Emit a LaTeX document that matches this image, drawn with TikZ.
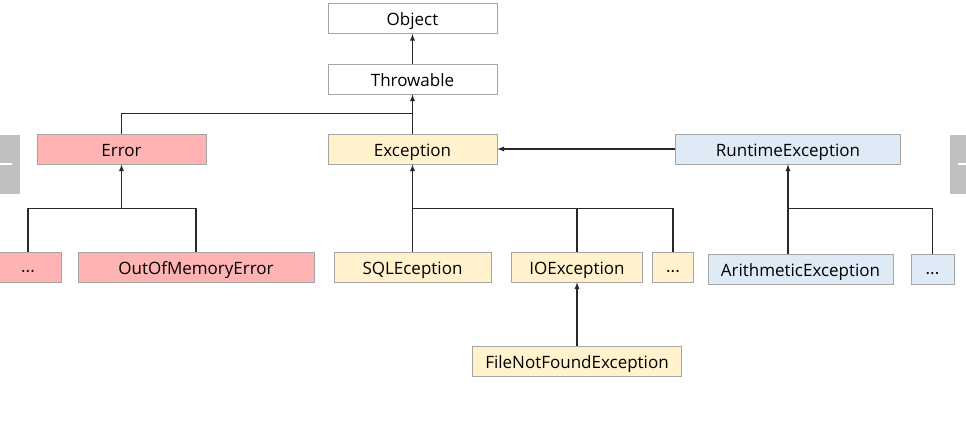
\documentclass[tikz,border=0pt]{standalone}
\usepackage{fontspec}
\usepackage{color}
\usepackage{tikz}
\newfontfamily\classfont{Open Sans}
\newcommand{\moredots}{\raisebox{-3pt}{···}}
\definecolor{boxgray}{RGB}{165,165,165}
\definecolor{linegray}{RGB}{40,40,40}
\definecolor{errorred}{RGB}{255,179,179}
\definecolor{exceptionyellow}{RGB}{255,242,204}
\definecolor{runtimeblue}{RGB}{222,235,247}
\definecolor{sidegray}{RGB}{191,191,191}
\tikzset{root style/.style={
		draw=boxgray,
		line width=0.8pt,
		fill=white,
		text=black,
		rectangle,
		minimum width=169pt,
		minimum height=30pt,
		inner sep=0pt,
		text height=15pt,
		text depth=1pt,
		font=\classfont\fontsize{17}{20}\selectfont,
	},
	error style/.style={
		root style,
		fill=errorred,
	},
	exception style/.style={
		root style,
		fill=exceptionyellow,
	},
	runtime style/.style={
		root style,
		fill=runtimeblue,
	},
	edge style/.style={
		#1,
		draw=linegray,
		line width=1.3pt,
	}
}
\begin{document}
\begin{tikzpicture}[node distance=70pt, >=latex]
	\useasboundingbox (0,0) rectangle (966pt,-445pt);
	
	% side tabs
	\fill[sidegray] (0,-135pt) rectangle (20pt,-194pt);
	\draw[white, line width=1.2pt] (0,-164pt) -- (12pt,-164pt);
	\fill[sidegray] (950pt,-135pt) rectangle (966pt,-194pt);
	\draw[white, line width=1.2pt] (958pt,-164pt) -- (966pt,-164pt);
	
	\node[root style] (Object) at (412.5pt,-18.5pt) {Object};
	
	\node[root style, below of=Object, yshift=9.5pt] (Throwable) {Throwable}
	edge [->, edge style] (Object);
	
	\node[exception style, below of=Throwable] (Exception) {Exception}
	edge [->, edge style] (Throwable);
	
	\node[error style, left of=Exception, xshift=-221pt] (Error) {Error};
	
	\node[runtime style, right of=Exception, xshift=305.5pt, minimum width=225pt] (RuntimeException) {RuntimeException}
	edge [->, edge style] (Exception);
	
	% Error children
	\node[error style, below of=Error, yshift=-48pt, xshift=74.5pt, minimum width=236pt] (OutOfMemoryError) {OutOfMemoryError};
	\node[error style, left of=OutOfMemoryError, xshift=-98pt, minimum width=66pt] (ErrorMore) {\moredots};
	
	% Exception children
	\node[exception style, below of=Exception, yshift=-48pt, minimum width=157pt] (SQLEception) {SQLEception}
	edge [->, edge style] (Exception);
	\node[exception style, right of=SQLEception, xshift=94.5pt, minimum width=131.5pt] (IOException) {IOException};
	\node[exception style, right of=IOException, xshift=26pt, minimum width=40.5pt] (ExceptionMore) {\moredots};
	\node[exception style, below of=IOException, yshift=-24.5pt, minimum width=209.5pt] (FileNotFoundException) {FileNotFoundException}
	edge [->, edge style] (IOException);
	
	% RuntimeException children
	\node[runtime style, below of=RuntimeException, yshift=-50pt, xshift=12.5pt, minimum width=185pt] (ArithmeticException) {ArithmeticException};
	\node[runtime style, right of=ArithmeticException, xshift=62pt, minimum width=43pt] (RuntimeMore) {\moredots};
	
	% joins
	\draw[edge style] (Error) |- ([yshift=20pt]Exception.north);
	\draw[edge style] (ErrorMore.north) |- ([yshift=-44pt]Error.south) -| (OutOfMemoryError.north);
	\draw[edge style, ->] ([yshift=-44pt]Error.south) -- (Error.south);
	\draw[edge style] (IOException.north) |- ([yshift=-44pt]Exception.south);
	\draw[edge style] (ExceptionMore.north) |- ([yshift=-44pt]Exception.south);
	\draw[edge style, ->] (ArithmeticException.north -| RuntimeException.south) -- (RuntimeException.south);
	\draw[edge style] (RuntimeMore.north) |- ([yshift=-44pt]RuntimeException.south);
\end{tikzpicture}
\end{document}
